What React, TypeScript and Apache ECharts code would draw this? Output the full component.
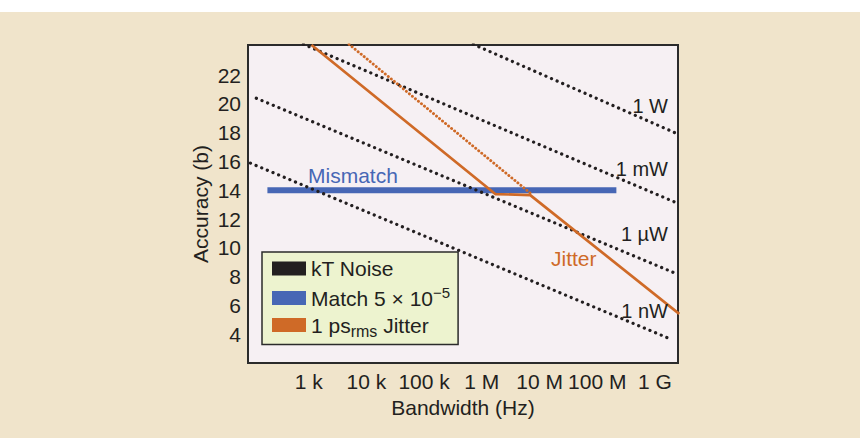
import React, { useEffect, useRef } from "react";
import * as echarts from "echarts";

// ---- data ----
const xTickHz = [1e3, 1e4, 1e5, 1e6, 1e7, 1e8, 1e9];
const xTickLabels = ["1 k", "10 k", "100 k", "1 M", "10 M", "100 M", "1 G"];
const yTicks = [4, 6, 8, 10, 12, 14, 16, 18, 20, 22];
const xMinHz = 89;
const xMaxHz = 2.5e9;
const yMin = 2;
const yMax = 24.1;

// kT noise lines (straight in log-f): start and end points
const kTLabels = ["1 W", "1 mW", "1 µW", "1 nW"];
const kTStartHz = [7.1e5, 810, 124, 98];
const kTStartBits = [24.15, 24.15, 20.4, 15.89];
const kTEndHz = [2.5e9, 2.4e9, 2.4e9, 2.0e9];
const kTEndBits = [17.91, 13.12, 8.19, 3.61];

// mismatch
const mismatchHz = [193, 2.14e8];
const mismatchBits = [14, 14];

// jitter (solid combined curve and dotted extension)
const jitterSolidHz = [1122, 1.71e6, 6.89e6, 2.63e9];
const jitterSolidBits = [24.1, 13.74, 13.67, 5.41];
const jitterDottedHz = [5012, 6.89e6];
const jitterDottedBits = [24.15, 13.81];

const FONT = "'Liberation Sans', Arial, Helvetica, sans-serif";
const TEXT = "#231f20";
const BLUE = "#4767b5";
const ORANGE = "#cf6a27";
const BLACK = "#231f20";

const NAME_KT = "kT Noise";
const NAME_MM = "Match 5 × 10−5";
const NAME_JT = "1 ps rms Jitter";

function pts(hz: number[], bits: number[]) {
  return hz.map((f, i) => [Math.log10(f), bits[i]]);
}

export default function App() {
  const ref = useRef<HTMLDivElement>(null);
  useEffect(() => {
    if (!ref.current) return;
    const chart = echarts.init(ref.current, undefined, { renderer: "svg" });
    const xTickVals = xTickHz.map((f) => Math.log10(f));
    const labelMap: Record<string, string> = {};
    xTickVals.forEach((v, i) => (labelMap[v.toFixed(3)] = xTickLabels[i]));

    const kTSeries = kTLabels.map((lab, i) => ({
      type: "line",
      name: NAME_KT,
      color: BLACK,
      symbol: "none",
      clip: true,
      data: pts([kTStartHz[i], kTEndHz[i]], [kTStartBits[i], kTEndBits[i]]),
      lineStyle: { width: 3.2, type: [0.1, 6], cap: "round", color: BLACK },
      z: 3,
    }));

    const option: any = {
      animation: false,
      backgroundColor: "#ffffff",
      textStyle: { fontFamily: FONT },
      grid: {
        left: 248,
        top: 45,
        width: 430,
        height: 318,
        show: true,
        backgroundColor: "#f6f0f3",
        borderColor: "#2b2b2b",
        borderWidth: 2,
        z: 1,
      },
      xAxis: {
        type: "value",
        min: Math.log10(xMinHz),
        max: Math.log10(xMaxHz),
        axisLine: { show: true, lineStyle: { color: "#2b2b2b", width: 2 } },
        axisTick: {
          show: true,
          inside: true,
          length: 10,
          customValues: xTickVals,
          lineStyle: { color: "#2b2b2b", width: 2 },
        },
        axisLabel: {
          customValues: xTickVals,
          formatter: (v: number) => labelMap[v.toFixed(3)] ?? "",
          fontSize: 21,
          color: TEXT,
          margin: 8,
          fontFamily: FONT,
        },
        splitLine: { show: false },
        name: "Bandwidth (Hz)",
        nameLocation: "middle",
        nameGap: 31,
        nameTextStyle: { fontSize: 21, color: TEXT, fontFamily: FONT },
      },
      yAxis: {
        type: "value",
        min: yMin,
        max: yMax,
        axisLine: { show: true, lineStyle: { color: "#2b2b2b", width: 2 } },
        axisTick: {
          show: true,
          inside: true,
          length: 11,
          customValues: yTicks,
          lineStyle: { color: "#2b2b2b", width: 2 },
        },
        axisLabel: {
          customValues: yTicks,
          fontSize: 21,
          color: TEXT,
          margin: 7,
          fontFamily: FONT,
        },
        splitLine: { show: false },
        name: "Accuracy (b)",
        nameLocation: "middle",
        nameGap: 37,
        nameTextStyle: { fontSize: 21, color: TEXT, fontFamily: FONT },
      },
      legend: {
        orient: "vertical",
        left: 262,
        top: 252,
        data: [NAME_KT, NAME_MM, NAME_JT],
        icon: "rect",
        itemWidth: 34,
        itemHeight: 14,
        itemGap: 6,
        padding: [6, 8, 5, 10],
        backgroundColor: "#edf3cf",
        borderColor: "#2b2b2b",
        borderWidth: 1.5,
        borderRadius: 0,
        selectedMode: false,
        itemStyle: { borderWidth: 0 },
        formatter: (name: string) => {
          if (name === NAME_MM) return "{t|Match 5 × 10}{sup|−5}";
          if (name === NAME_JT) return "{t|1 ps}{sub|rms}{t| Jitter}";
          return "{t|" + name + "}";
        },
        textStyle: {
          fontFamily: FONT,
          color: TEXT,
          fontSize: 21,
          rich: {
            t: { fontSize: 21, color: TEXT, fontFamily: FONT },
            sup: { fontSize: 15, color: TEXT, fontFamily: FONT, padding: [0, 0, 11, 0] },
            sub: { fontSize: 16, color: TEXT, fontFamily: FONT, padding: [13, 0, 0, 0] },
          },
        },
      },
      graphic: [
        {
          type: "rect",
          z: -10,
          silent: true,
          shape: { x: 0, y: 12, width: 860, height: 426 },
          style: { fill: "#f0e4cb" },
        },
        ...kTLabels.map((lab, i) => ({
          type: "text",
          z: 50,
          x: 668,
          y: [105.5, 169, 234, 311][i],
          style: {
            text: lab,
            fill: TEXT,
            font: `20px ${FONT}`,
            textAlign: "right",
            textVerticalAlign: "middle",
          },
        })),
        {
          type: "text",
          z: 50,
          x: 308,
          y: 175.5,
          style: {
            text: "Mismatch",
            fill: BLUE,
            font: `21px ${FONT}`,
            textAlign: "left",
            textVerticalAlign: "middle",
          },
        },
        {
          type: "text",
          z: 50,
          x: 551,
          y: 258,
          style: {
            text: "Jitter",
            fill: ORANGE,
            font: `21px ${FONT}`,
            textAlign: "left",
            textVerticalAlign: "middle",
          },
        },
      ],
      series: [
        ...kTSeries,
        {
          type: "line",
          name: NAME_MM,
          color: BLUE,
          symbol: "none",
          data: pts(mismatchHz, mismatchBits),
          lineStyle: { width: 6, color: BLUE },
          z: 2,
        },
        {
          type: "line",
          name: NAME_JT,
          color: ORANGE,
          symbol: "none",
          clip: false,
          data: pts(jitterSolidHz, jitterSolidBits),
          lineStyle: { width: 2.7, color: ORANGE },
          z: 4,
        },
        {
          type: "line",
          name: NAME_JT,
          color: ORANGE,
          symbol: "none",
          clip: true,
          data: pts(jitterDottedHz, jitterDottedBits),
          lineStyle: { width: 2.9, type: [0.1, 3.8], cap: "round", color: ORANGE },
          z: 4,
        },
      ],
    };
    chart.setOption(option);
    return () => chart.dispose();
  }, []);
  return (
    <div
      ref={ref}
      style={{ position: "absolute", left: 0, top: 0, width: 864, height: 438 }}
    />
  );
}
